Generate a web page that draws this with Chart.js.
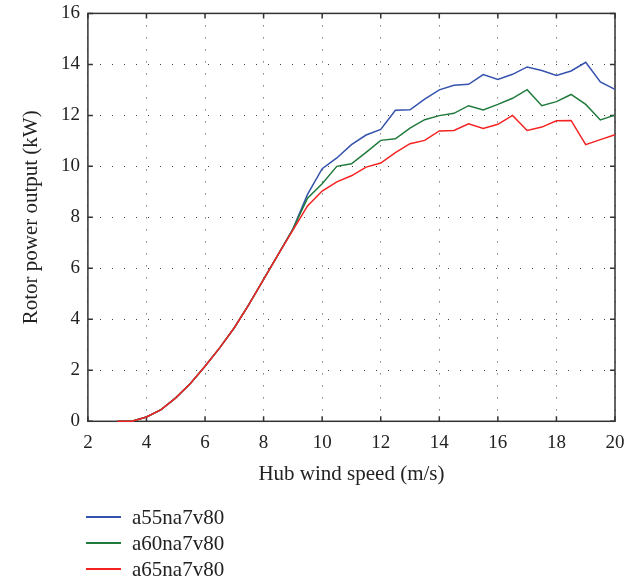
<!DOCTYPE html>
<html>
<head>
<meta charset="utf-8">
<script src="https://cdn.jsdelivr.net/npm/chart.js@4/dist/chart.umd.min.js"></script>
<style>
    html, body { margin: 0; padding: 0; background: #fff; overflow: hidden; }
    #wrap { position: relative; width: 639px; height: 581px; overflow: hidden; }
    #myChart { position: absolute; left: 0; top: -6px; }
    #legend { position: absolute; left: 86px; top: 504px; font-family: "Liberation Serif", serif; font-size: 21px; color: #222; }
    #legend div { height: 26px; display: flex; align-items: center; }
    #legend span.sw { display: inline-block; width: 35px; height: 1.5px; margin-right: 11px; }
</style>
</head>
<body>
<div id="wrap">
    <canvas id="myChart" width="639" height="587"></canvas>
    <div id="legend"></div>
</div>
<script>
// hub wind speed (m/s)
var speeds = [3, 3.5, 4, 4.5, 5, 5.5, 6, 6.5, 7, 7.5, 8, 8.5, 9, 9.5, 10, 10.5, 11, 11.5, 12,
    12.5, 13, 13.5, 14, 14.5, 15, 15.5, 16, 16.5, 17, 17.5, 18, 18.5, 19, 19.5, 20];

// rotor power output (kW)
var a55 = [0, 0, 0.17, 0.46, 0.92, 1.48, 2.16, 2.88, 3.67, 4.59, 5.57, 6.55, 7.54, 8.9, 9.91,
    10.33, 10.85, 11.23, 11.45, 12.2, 12.22, 12.64, 13.0, 13.18, 13.22, 13.6, 13.41, 13.61,
    13.9, 13.76, 13.57, 13.74, 14.08, 13.31, 13.02];
var a60 = [0, 0, 0.17, 0.46, 0.92, 1.48, 2.16, 2.88, 3.67, 4.59, 5.57, 6.55, 7.54, 8.75, 9.32,
    10.0, 10.1, 10.55, 11.02, 11.08, 11.5, 11.83, 11.99, 12.08, 12.38, 12.21, 12.43, 12.67,
    13.01, 12.38, 12.54, 12.82, 12.43, 11.82, 12.01];
var a65 = [0, 0, 0.17, 0.46, 0.92, 1.48, 2.16, 2.88, 3.67, 4.59, 5.57, 6.55, 7.5, 8.45, 9.03,
    9.39, 9.63, 9.97, 10.13, 10.54, 10.89, 11.02, 11.39, 11.41, 11.67, 11.49, 11.65, 12.0,
    11.41, 11.54, 11.79, 11.8, 10.85, 11.05, 11.24];

var seriesNames = ['a55na7v80', 'a60na7v80', 'a65na7v80'];
var seriesColors = ['#3552ad', '#1f7a3c', '#f52222'];

function pts(vals) {
    return speeds.map((s, i) => ({x: s, y: vals[i]}));
}

// solid frame around the plot and inward tick marks on all four sides
var framePlugin = {
    id: 'frame',
    beforeDatasetsDraw(chart) {
        var ctx = chart.ctx;
        var a = chart.chartArea;
        var xs = chart.scales.x, ys = chart.scales.y;
        ctx.save();
        ctx.strokeStyle = '#333';
        ctx.lineWidth = 1.5;
        ctx.strokeRect(a.left, a.top, a.right - a.left, a.bottom - a.top);
        ctx.beginPath();
        xs.ticks.forEach(t => {
            var px = xs.getPixelForValue(t.value);
            ctx.moveTo(px, a.bottom); ctx.lineTo(px, a.bottom - 5);
            ctx.moveTo(px, a.top); ctx.lineTo(px, a.top + 5);
        });
        ys.ticks.forEach(t => {
            var py = ys.getPixelForValue(t.value);
            ctx.moveTo(a.left, py); ctx.lineTo(a.left + 5, py);
            ctx.moveTo(a.right, py); ctx.lineTo(a.right - 5, py);
        });
        ctx.stroke();
        ctx.restore();
    }
};

var font = {family: '"Liberation Serif", serif', size: 19};
var titleFont = {family: '"Liberation Serif", serif', size: 21, lineHeight: 0.9};

var chart = new Chart(document.getElementById('myChart'), {
    type: 'line',
    data: {
        datasets: [a55, a60, a65].map((v, i) => ({
            label: seriesNames[i],
            data: pts(v),
            borderColor: seriesColors[i],
            backgroundColor: seriesColors[i],
            borderWidth: 1.5,
            pointRadius: 0,
            tension: 0,
            fill: false,
            clip: 4,
            order: 3 - i   // red drawn on top, as in the original
        }))
    },
    options: {
        responsive: false,
        animation: false,
        layout: {padding: {top: 0, right: 24, bottom: 93, left: 18}},
        plugins: {
            legend: {display: false},
            tooltip: {enabled: false}
        },
        scales: {
            x: {
                type: 'linear',
                min: 2, max: 20,
                ticks: {stepSize: 2, color: '#222', font: font, padding: 10, maxRotation: 0},
                grid: {color: '#444', lineWidth: 1, drawTicks: false},
                border: {display: false, dash: [1, 11]},
                title: {display: true, text: 'Hub wind speed (m/s)', color: '#222', font: titleFont, padding: {top: 1}}
            },
            y: {
                min: 0, max: 16,
                ticks: {stepSize: 2, color: '#222', font: font, padding: 8},
                grid: {color: '#444', lineWidth: 1, drawTicks: false},
                border: {display: false, dash: [1, 11]},
                title: {display: true, text: 'Rotor power output (kW)', color: '#222', font: titleFont, padding: {bottom: 12}}
            }
        }
    },
    plugins: [framePlugin]
});

var legend = document.getElementById('legend');
chart.data.datasets.forEach(ds => {
    var row = document.createElement('div');
    var sw = document.createElement('span');
    sw.className = 'sw';
    sw.style.background = ds.borderColor;
    row.appendChild(sw);
    row.appendChild(document.createTextNode(ds.label));
    legend.appendChild(row);
});
</script>
</body>
</html>
